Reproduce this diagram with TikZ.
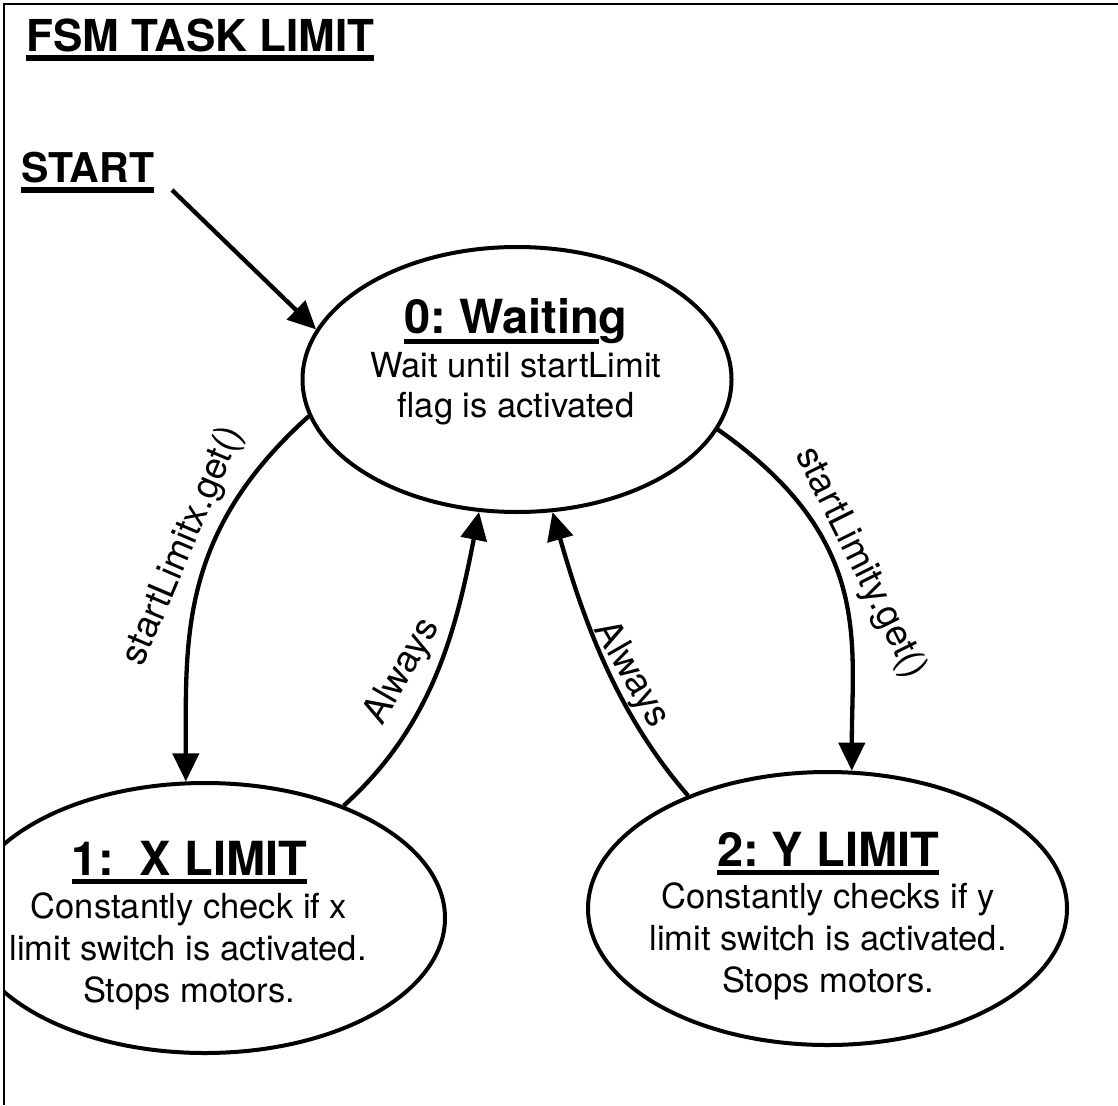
\documentclass[tikz,border=0pt]{standalone}
\usepackage{fontspec}
\setmainfont{TeX Gyre Heros}
\usetikzlibrary{shapes.geometric,arrows.meta}

% text with a thick bar under it: #1 text, #2 bar offset from baseline, #3 bar thickness
\newcommand{\headul}[3]{\setbox0=\hbox{#1}\rlap{\rule[#2]{\wd0}{#3}}\box0}

\begin{document}
\frenchspacing
\begin{tikzpicture}[x=1pt,y=1pt,
  statebox/.style={ellipse, draw, line width=4pt, inner sep=0pt},
  heading/.style={font=\fontsize{47}{50}\selectfont\bfseries, inner sep=0pt, anchor=base},
  bodytext/.style={font=\fontsize{34.5}{41}\selectfont, inner sep=0pt, anchor=base},
  edgelabel/.style={font=\fontsize{37}{40}\selectfont, inner sep=0pt},
  trans/.style={line width=4.3pt, -{Triangle[length=28pt,width=26pt]}}]

\useasboundingbox (0,0) rectangle (1118,-1105);

% page frame
\draw[line width=2.2pt] (3.7,-1105) -- (3.7,-3.7) -- (1118,-3.7);

% title and start marker
\node[font=\fontsize{44}{48}\selectfont\bfseries, inner sep=0pt, anchor=base west]
  (title) at (26,-52) {\headul{FSM TASK LIMIT}{-9pt}{5.5pt}};
\node[font=\fontsize{41}{45}\selectfont\bfseries, inner sep=0pt, anchor=base west]
  (start) at (21,-182) {\headul{START}{-10.7pt}{6pt}};
\coordinate (startpt) at (172,-190);

% states
\node[statebox, minimum width=429pt, minimum height=265pt] (s0) at (517,-379.5) {};
\begin{scope}
  \clip (3.7,0) rectangle (1118,-1105);
  \node[statebox, minimum width=480pt, minimum height=270pt] (s1) at (205,-918) {};
\end{scope}
\node[statebox, minimum width=479pt, minimum height=273pt] (s2) at (827.5,-908.5) {};

% state texts
\node[heading] (h0) at (516,-333) {\headul{0: Waitin}{-10.5pt}{5pt}g};
\node[bodytext] (b0a) at (516,-377.7) {Wait until startLimit};
\node[bodytext] (b0b) at (516,-417.7) {flag is activated};

\node[heading] (h1) at (189.5,-875) {\headul{1:\ \ X LIMIT}{-8.5pt}{5pt}};
\node[bodytext] (b1a) at (189,-918) {Constantly check if x};
\node[bodytext] (b1b) at (188,-960) {limit switch is activated.};
\node[bodytext] (b1c) at (189,-1002) {Stops motors.};

\node[heading] (h2) at (828,-866) {\headul{2: Y LIMIT}{-8.5pt}{5pt}};
\node[bodytext] (b2a) at (828,-908) {Constantly checks if y};
\node[bodytext] (b2b) at (828,-950) {limit switch is activated.};
\node[bodytext] (b2c) at (828,-992) {Stops motors.};

% transitions
\draw[trans] (startpt) -- (s0.166);
\draw[trans] (s0.190) to[out=222,in=90,out distance=175pt,in distance=143pt] (s1.98);
\draw[trans] (s1.39) to[out=42,in=259,out distance=120pt,in distance=120pt] (s0.254);
\draw[trans] (s0.346) to[out=325,in=90,out distance=190pt,in distance=130pt] (s2.80);
\draw[trans] (s2.141) to[out=131,in=286,out distance=110pt,in distance=110pt] (s0.285);

% transition labels
\node[edgelabel, rotate=67] (lx) at (184,-546) {startLimitx.get()};
\node[edgelabel, rotate=60] (la1) at (403,-672) {Always};
\node[edgelabel, rotate=-63.5] (ly) at (860,-563) {startLimity.get()};
\node[edgelabel, rotate=-60] (la2) at (631,-675) {Always};

\end{tikzpicture}
\end{document}
